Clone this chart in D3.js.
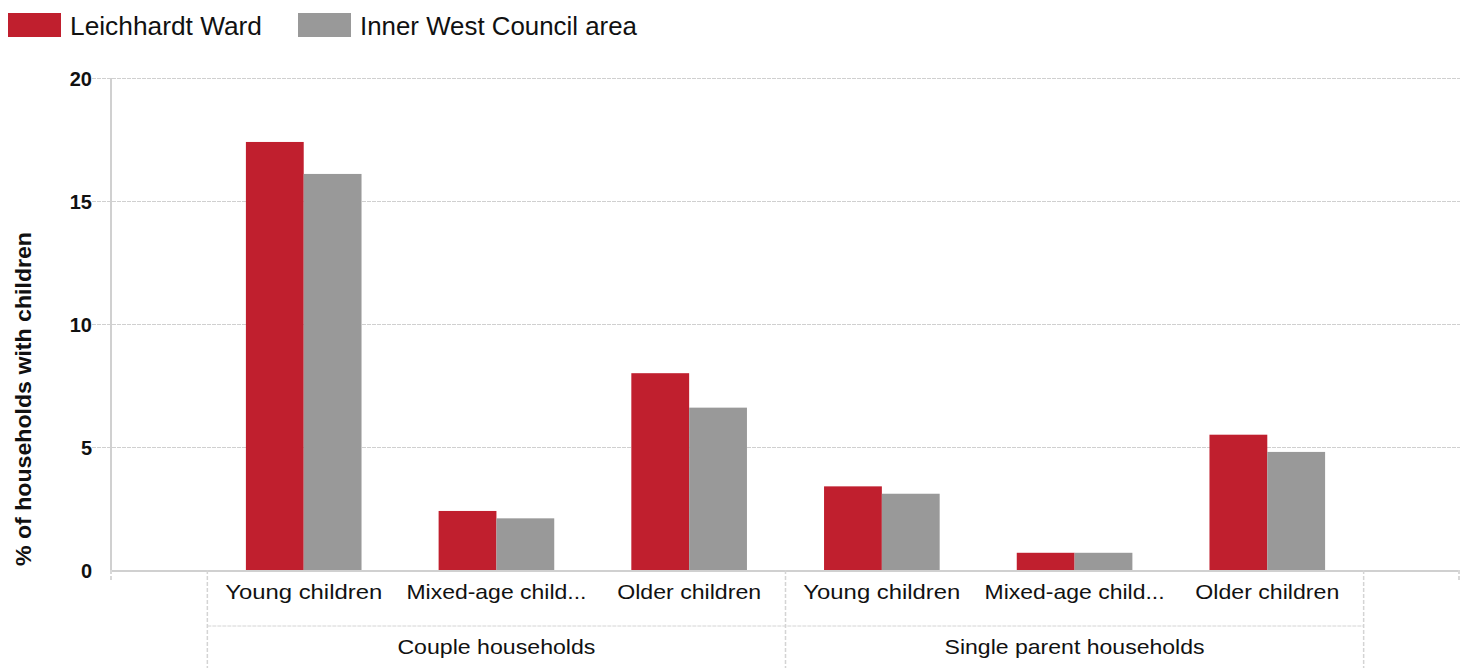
<!DOCTYPE html>
<html>
<head>
<meta charset="utf-8">
<script src="https://cdn.jsdelivr.net/npm/d3@7"></script>
<style>
  body { margin: 0; background: #fff; }
  text { font-family: "Liberation Sans", Arial, sans-serif; fill: #111; }
</style>
</head>
<body>
<div id="chart-area"></div>
<script>
// data
var seriesNames = ["Leichhardt Ward", "Inner West Council area"];
var seriesColors = ["#c01f2e", "#999999"];
var groups = ["Couple households", "Single parent households"];
var categories = ["Young children", "Mixed-age children", "Older children"];
var tickLabels = ["Young children", "Mixed-age child...", "Older children"];
var leichhardt = [17.4, 2.4, 8.0, 3.4, 0.7, 5.5];
var innerWest = [16.1, 2.1, 6.6, 3.1, 0.7, 4.8];
var yTicks = [0, 5, 10, 15, 20];

var width = 1466;
var height = 668;
// note: "top" is taken by window.top, so plot edges get their own names
var plotLeft = 111, plotRight = 1460, plotTop = 78, plotBottom = 570;

var svg = d3.select("#chart-area").append("svg")
    .attr("width", width)
    .attr("height", height);

// one slot per group/category pair
var rows = [];
groups.forEach(function(g, gi) {
    categories.forEach(function(c, ci) {
        var i = gi * categories.length + ci;
        rows.push({ key: g + "|" + c, group: g, label: tickLabels[ci], values: [leichhardt[i], innerWest[i]] });
    });
});

var x0 = d3.scaleBand()
    .domain(rows.map(function(d) { return d.key; }))
    .range([plotLeft, plotRight])
    .paddingInner(0)
    .paddingOuter(0.5);

var groupW = x0.step() * 0.6;
var x1 = d3.scaleBand()
    .domain(seriesNames)
    .range([0, groupW]);

var y = d3.scaleLinear()
    .domain([0, 20])
    .range([plotBottom, plotTop]);

// dashed gridlines
svg.append("g")
    .attr("transform", "translate(92,0)")
    .call(d3.axisLeft(y).tickValues([5, 10, 15, 20]).tickSize(-(plotRight - 92)).tickFormat(""))
    .call(function(g) { g.select(".domain").remove(); })
    .selectAll("line")
    .attr("stroke", "#d0d0d0")
    .attr("stroke-dasharray", "4,1");

// y labels
svg.append("g")
    .attr("transform", "translate(" + plotLeft + ",0)")
    .call(d3.axisLeft(y).tickValues(yTicks).tickSize(0).tickPadding(19))
    .call(function(g) { g.select(".domain").remove(); })
    .selectAll("text")
    .attr("font-size", "20px")
    .attr("font-weight", "bold")
    .attr("dy", "0.36em")
    .style("font-family", "'Liberation Sans', Arial, sans-serif")
    .attr("fill", "#111");

// bars
var barGroups = svg.append("g").selectAll("g")
    .data(rows)
    .enter()
    .append("g")
    .attr("transform", function(d) {
        return "translate(" + (x0(d.key) + (x0.bandwidth() - groupW) / 2) + ",0)";
    });

barGroups.selectAll("rect")
    .data(function(d) {
        return d.values.map(function(v, i) { return { name: seriesNames[i], value: v, color: seriesColors[i] }; });
    })
    .enter()
    .append("rect")
    .attr("x", function(d) { return x1(d.name); })
    .attr("y", function(d) { return y(d.value); })
    .attr("width", x1.bandwidth())
    .attr("height", function(d) { return plotBottom - y(d.value); })
    .attr("fill", function(d) { return d.color; });

// axis lines
svg.append("line")
    .attr("x1", plotLeft).attr("x2", plotLeft)
    .attr("y1", plotTop).attr("y2", plotBottom)
    .attr("stroke", "#d0d0d0").attr("stroke-width", 2);

svg.append("line")
    .attr("x1", plotLeft).attr("x2", plotRight)
    .attr("y1", plotBottom + 1).attr("y2", plotBottom + 1)
    .attr("stroke", "#d0d0d0").attr("stroke-width", 2);

// little ticks at both ends of the baseline
[plotLeft, plotRight - 1].forEach(function(px) {
    svg.append("line")
        .attr("x1", px).attr("x2", px)
        .attr("y1", plotBottom).attr("y2", plotBottom + 10)
        .attr("stroke", "#d8d8d8").attr("stroke-width", 2)
        .attr("stroke-dasharray", "4,2");
});

// category labels
var catWidths = [157, 180, 144];
svg.append("g").selectAll("text")
    .data(rows)
    .enter()
    .append("text")
    .attr("x", function(d) { return x0(d.key) + x0.bandwidth() / 2; })
    .attr("y", 599)
    .attr("text-anchor", "middle")
    .attr("font-size", "21px")
    .attr("textLength", function(d, i) { return catWidths[i % 3]; })
    .attr("lengthAdjust", "spacingAndGlyphs")
    .text(function(d) { return d.label; });

// group separators and labels
var gLeft = x0(rows[0].key);
var gRight = x0(rows[rows.length - 1].key) + x0.bandwidth();

svg.append("line")
    .attr("x1", gLeft).attr("x2", gRight)
    .attr("y1", 626).attr("y2", 626)
    .attr("stroke", "#d4d4d4")
    .attr("stroke-dasharray", "4,1");

var groupWidths = [198, 260];
groups.forEach(function(g, gi) {
    var first = rows[gi * 3], last = rows[gi * 3 + 2];
    var gx0 = x0(first.key);
    var gx1 = x0(last.key) + x0.bandwidth();

    svg.append("line")
        .attr("x1", gx0).attr("x2", gx0)
        .attr("y1", plotBottom).attr("y2", height)
        .attr("stroke", "#d4d4d4").attr("stroke-width", 1.5)
        .attr("stroke-dasharray", "4,2");

    svg.append("text")
        .attr("x", (gx0 + gx1) / 2)
        .attr("y", 654)
        .attr("text-anchor", "middle")
        .attr("font-size", "21px")
        .attr("textLength", groupWidths[gi])
        .attr("lengthAdjust", "spacingAndGlyphs")
        .text(g);
});

svg.append("line")
    .attr("x1", gRight).attr("x2", gRight)
    .attr("y1", plotBottom).attr("y2", height)
    .attr("stroke", "#d4d4d4").attr("stroke-width", 1.5)
    .attr("stroke-dasharray", "4,2");

// y axis title
svg.append("text")
    .attr("transform", "translate(31,399) rotate(-90)")
    .attr("text-anchor", "middle")
    .attr("font-size", "22px")
    .attr("font-weight", "bold")
    .attr("textLength", 334)
    .attr("lengthAdjust", "spacingAndGlyphs")
    .text("% of households with children");

// legend
var legendX = [8, 298];
var legendW = [192, 277];
var legend = svg.append("g").selectAll("g")
    .data(seriesNames)
    .enter()
    .append("g")
    .attr("transform", function(d, i) { return "translate(" + legendX[i] + ",0)"; });

legend.append("rect")
    .attr("x", 0).attr("y", 13)
    .attr("width", 53).attr("height", 24)
    .attr("fill", function(d, i) { return seriesColors[i]; });

legend.append("text")
    .attr("x", 62)
    .attr("y", 35)
    .attr("font-size", "25px")
    .attr("textLength", function(d, i) { return legendW[i]; })
    .attr("lengthAdjust", "spacingAndGlyphs")
    .text(function(d) { return d; });
</script>
</body>
</html>
